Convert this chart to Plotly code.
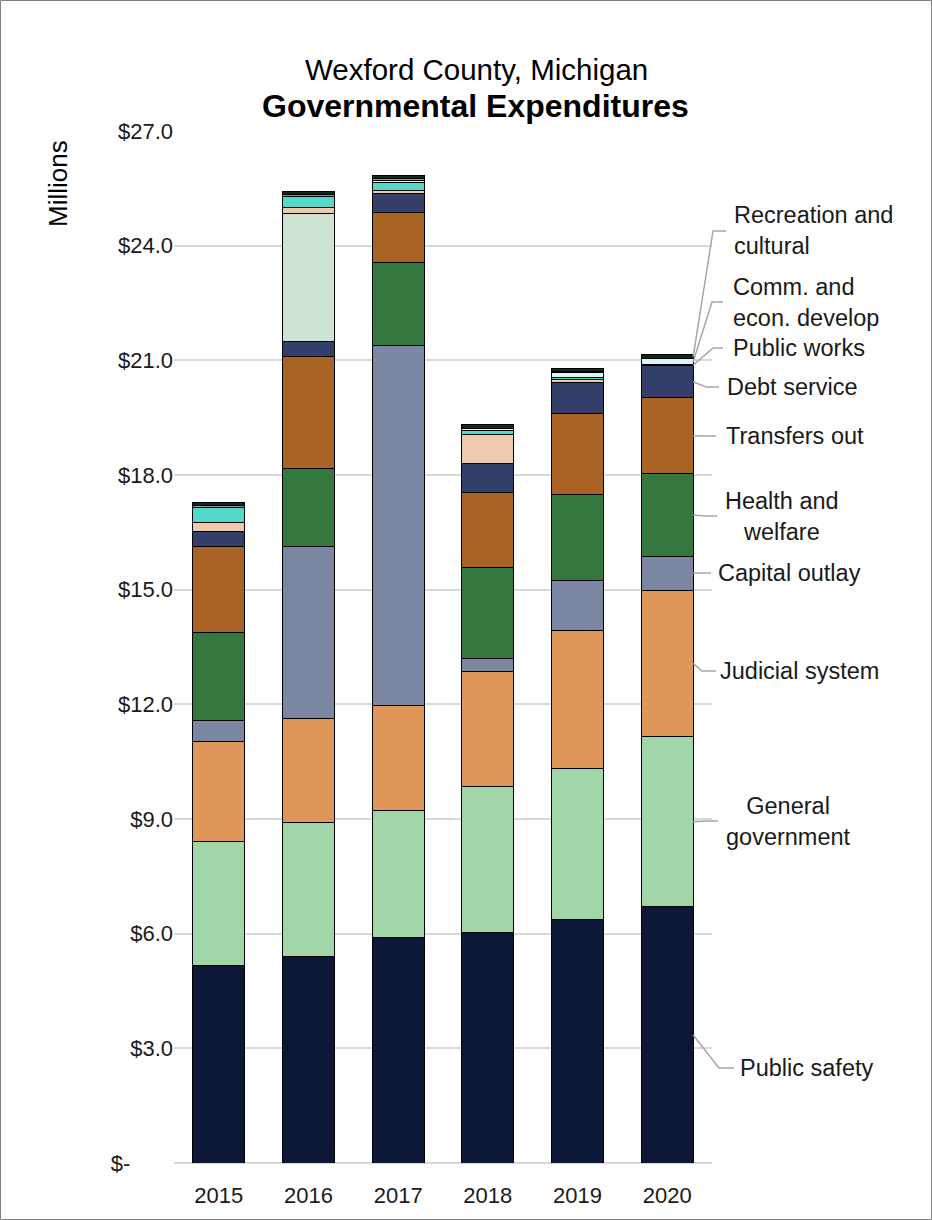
import plotly.graph_objects as go

years = ["2015", "2016", "2017", "2018", "2019", "2020"]

public_safety   = [5.18, 5.39, 5.89, 6.04, 6.38, 6.70]
general_gov     = [3.22, 3.53, 3.32, 3.80, 3.95, 4.45]
judicial        = [2.62, 2.70, 2.75, 3.03, 3.59, 3.84]
capital_outlay  = [0.57, 4.52, 9.42, 0.34, 1.31, 0.89]
health_welfare  = [2.28, 2.02, 2.19, 2.38, 2.27, 2.15]
transfers_out   = [2.27, 2.93, 1.29, 1.94, 2.12, 1.99]
debt_service    = [0.39, 0.39, 0.50, 0.76, 0.79, 0.84]
other_mint      = [0.00, 3.35, 0.00, 0.00, 0.00, 0.00]
public_works    = [0.24, 0.16, 0.08, 0.78, 0.10, 0.03]
other_turq      = [0.38, 0.29, 0.22, 0.10, 0.03, 0.00]
comm_econ       = [0.00, 0.00, 0.05, 0.05, 0.14, 0.15]
other_gray      = [0.04, 0.05, 0.06, 0.00, 0.02, 0.02]
recreation      = [0.08, 0.10, 0.06, 0.10, 0.09, 0.08]

series = [
    ("Public safety", public_safety, "#0D1838"),
    ("General government", general_gov, "#A0D6A8"),
    ("Judicial system", judicial, "#DE9759"),
    ("Capital outlay", capital_outlay, "#7B86A2"),
    ("Health and welfare", health_welfare, "#347840"),
    ("Transfers out", transfers_out, "#A96324"),
    ("Debt service", debt_service, "#333F68"),
    ("Other", other_mint, "#CFE3D3"),
    ("Public works", public_works, "#EFCBAE"),
    ("Other functions", other_turq, "#52D9C9"),
    ("Comm. and econ. develop", comm_econ, "#D8F6F2"),
    ("Miscellaneous", other_gray, "#8E9E9E"),
    ("Recreation and cultural", recreation, "#0F2A1C"),
]

tick_vals = [0, 3, 6, 9, 12, 15, 18, 21, 24, 27]
tick_text = ["$-" + "\u00a0" * 7, "$3.0", "$6.0", "$9.0", "$12.0", "$15.0",
             "$18.0", "$21.0", "$24.0", "$27.0"]

fig = go.Figure()
for name, vals, col in series:
    fig.add_trace(go.Bar(x=years, y=vals, name=name, marker_color=col,
                         marker_line_color="#000000", marker_line_width=1))

# geometry
L, T, W, H = 174, 131, 538, 1032
YMAX = 27.0

def px_x(px):
    return (px - L) / W

def px_y(py):
    return (T + H - py) / H

def val_y(v):
    return v / YMAX

# leader lines from midpoints of the 2020 segments
idx = 5
bar_half = 0.29
bar_right = (idx + bar_half + 0.5) / len(years)
cum = 0.0
mids = {}
for name, vals, col in series:
    v = vals[idx]
    mids[name] = cum + v / 2
    cum += v

FONT = "Liberation Sans, Arial, sans-serif"
label_font = dict(family=FONT, size=23.5, color="#1a1a1a")
labels = [
    # name, text, bend (px x, px y), end px x, text px x, anchor
    ("Public safety", "Public safety", (719, 1068), 734, 738, "left"),
    ("General government", "General<br>government", (705, 821), 718, 788, "center"),
    ("Judicial system", "Judicial system", (702, 671), 716, 718, "left"),
    ("Capital outlay", "Capital outlay", (702, 573), 711, 716, "left"),
    ("Health and welfare", "Health and<br>welfare", (705, 516), 717, 782, "center"),
    ("Transfers out", "Transfers out", (705, 436), 716, 724, "left"),
    ("Debt service", "Debt service", (706, 387), 719, 725, "left"),
    ("Public works", "Public works", (713, 348), 723, 731, "left"),
    ("Comm. and econ. develop", "Comm. and<br>econ. develop", (712, 302), 723, 731, "left"),
    ("Recreation and cultural", "Recreation and<br>cultural", (713, 231), 726, 732, "left"),
]

shapes = []
annotations = []
for name, text, bend, endx, tx, anchor in labels:
    y0 = val_y(mids[name])
    bx, by = px_x(bend[0]), px_y(bend[1])
    ex = px_x(endx)
    path = f"M {bar_right},{y0} L {bx},{by} L {ex},{by}"
    shapes.append(dict(type="path", path=path, xref="paper", yref="paper",
                       line=dict(color="#A6A6A6", width=1.5)))
    annotations.append(dict(text=text, x=px_x(tx), y=by, xref="paper", yref="paper",
                            xanchor=anchor, yanchor="middle", showarrow=False,
                            align=anchor, font=label_font))

# titles
annotations.append(dict(text="Wexford County, Michigan", x=px_x(476), y=px_y(70),
                        xref="paper", yref="paper", showarrow=False,
                        xanchor="center", yanchor="middle",
                        font=dict(family=FONT, size=29.5, color="#000000")))
annotations.append(dict(text="<b>Governmental Expenditures</b>", x=px_x(475), y=px_y(106),
                        xref="paper", yref="paper", showarrow=False,
                        xanchor="center", yanchor="middle",
                        font=dict(family=FONT, size=32, color="#000000")))
annotations.append(dict(text="Millions", x=px_x(58), y=px_y(184), textangle=-90,
                        xref="paper", yref="paper", showarrow=False,
                        xanchor="center", yanchor="middle",
                        font=dict(family=FONT, size=26, color="#000000")))

# outer border
shapes.append(dict(type="rect", xref="paper", yref="paper",
                   x0=px_x(0.5), x1=px_x(931.5), y0=px_y(1219.5), y1=px_y(0.5),
                   line=dict(color="#7F7F7F", width=1)))

fig.update_layout(
    barmode="stack",
    bargap=0.42,
    width=932, height=1220,
    margin=dict(l=L, r=932 - L - W, t=T, b=1220 - T - H, autoexpand=False),
    paper_bgcolor="white", plot_bgcolor="white",
    showlegend=False,
    font=dict(family=FONT, size=22, color="#1a1a1a"),
    shapes=shapes,
    annotations=annotations,
)
fig.update_yaxes(range=[0, YMAX], tickvals=tick_vals, ticktext=tick_text,
                 showgrid=True, gridcolor="#D9D9D9", gridwidth=1.5,
                 zeroline=True, zerolinecolor="#D9D9D9", zerolinewidth=1.5,
                 showline=False, ticks="", tickfont=dict(size=22), automargin=False)
fig.update_xaxes(showgrid=False, showline=False, ticks="outside", ticklen=13,
                 tickcolor="rgba(0,0,0,0)", tickfont=dict(size=22), automargin=False)

fig.write_html("out.html", config={"displayModeBar": False},
               post_script="document.body.style.margin='0';document.body.style.overflow='hidden';")
